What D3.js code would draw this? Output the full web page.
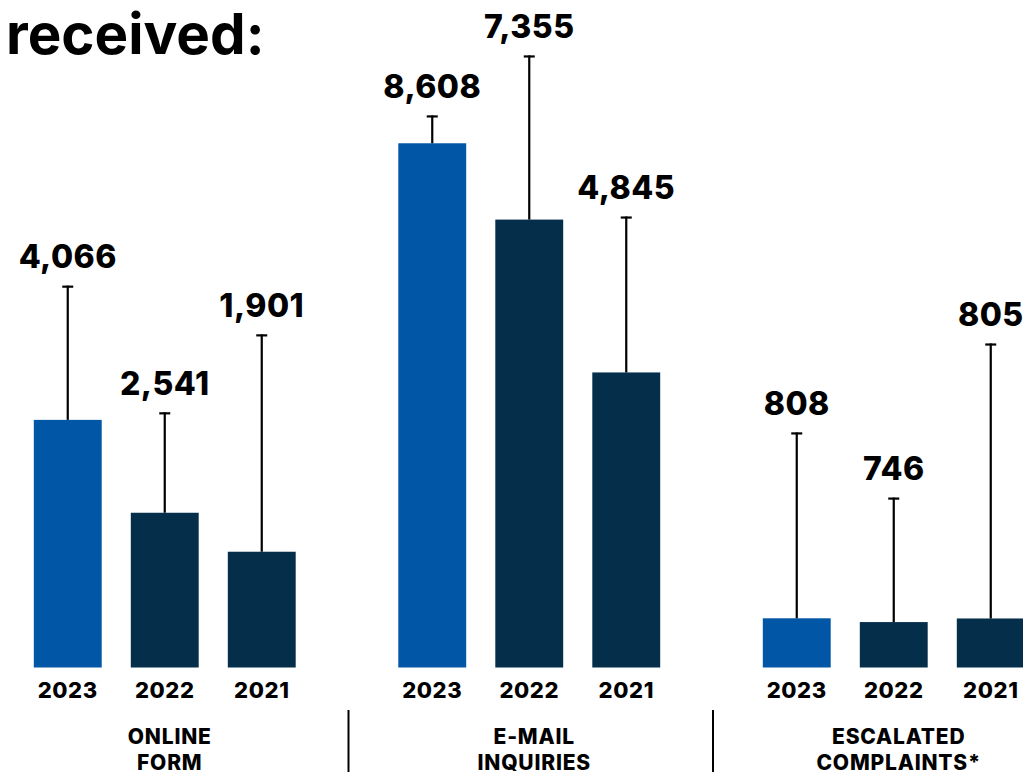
<!DOCTYPE html>
<html>
<head>
<meta charset="utf-8">
<script src="https://cdn.jsdelivr.net/npm/d3@7"></script>
<style>
  html, body { margin: 0; padding: 0; background: #ffffff; }
  svg { display: block; font-family: Inter, "Open Sans", sans-serif; }
</style>
</head>
<body>
<svg id="chart" width="1023" height="776"></svg>
<script>
// ---- data ----
const title = "received:";
const groups = ["ONLINE FORM", "E-MAIL INQUIRIES", "ESCALATED COMPLAINTS*"];
const groupLines = [["ONLINE", "FORM"], ["E-MAIL", "INQUIRIES"], ["ESCALATED", "COMPLAINTS*"]];
const years = ["2023", "2022", "2021"];
const onlineForm = [4066, 2541, 1901];
const emailInquiries = [8608, 7355, 4845];
const escalatedComplaints = [808, 746, 805];
// height (in value units) where each label's leader line ends
const onlineLabelLevel = [6270, 4190, 5470];
const emailLabelLevel = [9065, 10050, 7405];
const escalatedLabelLevel = [3860, 2790, 5320];

const seriesValues = [onlineForm, emailInquiries, escalatedComplaints];
const labelLevels = [onlineLabelLevel, emailLabelLevel, escalatedLabelLevel];

const rows = [];
groups.forEach((g, gi) => {
  years.forEach((yr, yi) => {
    rows.push({ group: g, year: yr, value: seriesValues[gi][yi], level: labelLevels[gi][yi] });
  });
});

// ---- layout ----
const svg = d3.select("#chart");
const baseY = 667.5;
const groupStep = 364.5;
const gx0 = -17.5;

const x0 = d3.scaleBand().domain(groups).range([gx0, gx0 + groupStep * 3]).padding(0);
const x1 = d3.scaleBand().domain(years)
  .range([x0.bandwidth() / 2 - 145.5, x0.bandwidth() / 2 + 145.5])
  .paddingInner(0.3).paddingOuter(0.15);
const y = d3.scaleLinear().domain([0, 10000]).range([baseY, baseY - 609]);

const colors = d3.scaleOrdinal().domain(years).range(["#0156a6", "#052e4a", "#052e4a"]);

// title
svg.append("text")
  .attr("x", 6).attr("y", 54)
  .attr("font-size", 56.5).attr("font-weight", 700)
  .attr("fill", "#000")
  .text(title);

const g = svg.selectAll("g.grp").data(groups).join("g")
  .attr("class", "grp")
  .attr("transform", d => `translate(${x0(d)},0)`);

// bars
g.selectAll("rect").data(d => rows.filter(r => r.group === d)).join("rect")
  .attr("x", d => x1(d.year))
  .attr("width", x1.bandwidth())
  .attr("y", d => y(d.value))
  .attr("height", d => y(0) - y(d.value))
  .attr("fill", d => colors(d.year));

// leader lines
const cx = (d) => x1(d.year) + x1.bandwidth() / 2;
g.selectAll("line.lead").data(d => rows.filter(r => r.group === d)).join("line")
  .attr("class", "lead")
  .attr("x1", cx).attr("x2", cx)
  .attr("y1", d => y(d.level)).attr("y2", d => y(d.value))
  .attr("stroke", "#000").attr("stroke-width", 2.2);
g.selectAll("line.cap").data(d => rows.filter(r => r.group === d)).join("line")
  .attr("class", "cap")
  .attr("x1", d => cx(d) - 5.5).attr("x2", d => cx(d) + 5.5)
  .attr("y1", d => y(d.level) + 1).attr("y2", d => y(d.level) + 1)
  .attr("stroke", "#000").attr("stroke-width", 2.2);

// value labels
g.selectAll("text.val").data(d => rows.filter(r => r.group === d)).join("text")
  .attr("class", "val")
  .attr("x", cx)
  .attr("y", d => y(d.level) - 17.5)
  .attr("text-anchor", "middle")
  .attr("font-size", 32).attr("font-weight", 800)
  .attr("letter-spacing", 0.5)
  .attr("fill", "#000")
  .text(d => d3.format(",")(d.value));

// year labels
g.selectAll("text.yr").data(d => rows.filter(r => r.group === d)).join("text")
  .attr("class", "yr")
  .attr("x", cx)
  .attr("y", 698)
  .attr("text-anchor", "middle")
  .attr("font-size", 22).attr("font-weight", 800)
  .attr("letter-spacing", 0.6)
  .attr("fill", "#000")
  .text(d => d.year);

// category labels
g.append("text")
  .attr("x", x0.bandwidth() / 2 + 5)
  .attr("text-anchor", "middle")
  .attr("font-size", 21).attr("font-weight", 800)
  .attr("letter-spacing", 0.8)
  .attr("fill", "#000")
  .selectAll("tspan").data((d, i) => groupLines[i]).join("tspan")
  .attr("x", x0.bandwidth() / 2 + 5)
  .attr("y", (d, i) => 744 + i * 26)
  .text(d => d);

// dividers
svg.selectAll("line.div").data(groups.slice(1)).join("line")
  .attr("class", "div")
  .attr("x1", d => x0(d) + 1.5).attr("x2", d => x0(d) + 1.5)
  .attr("y1", 710).attr("y2", 772)
  .attr("stroke", "#000").attr("stroke-width", 2);
</script>
</body>
</html>
